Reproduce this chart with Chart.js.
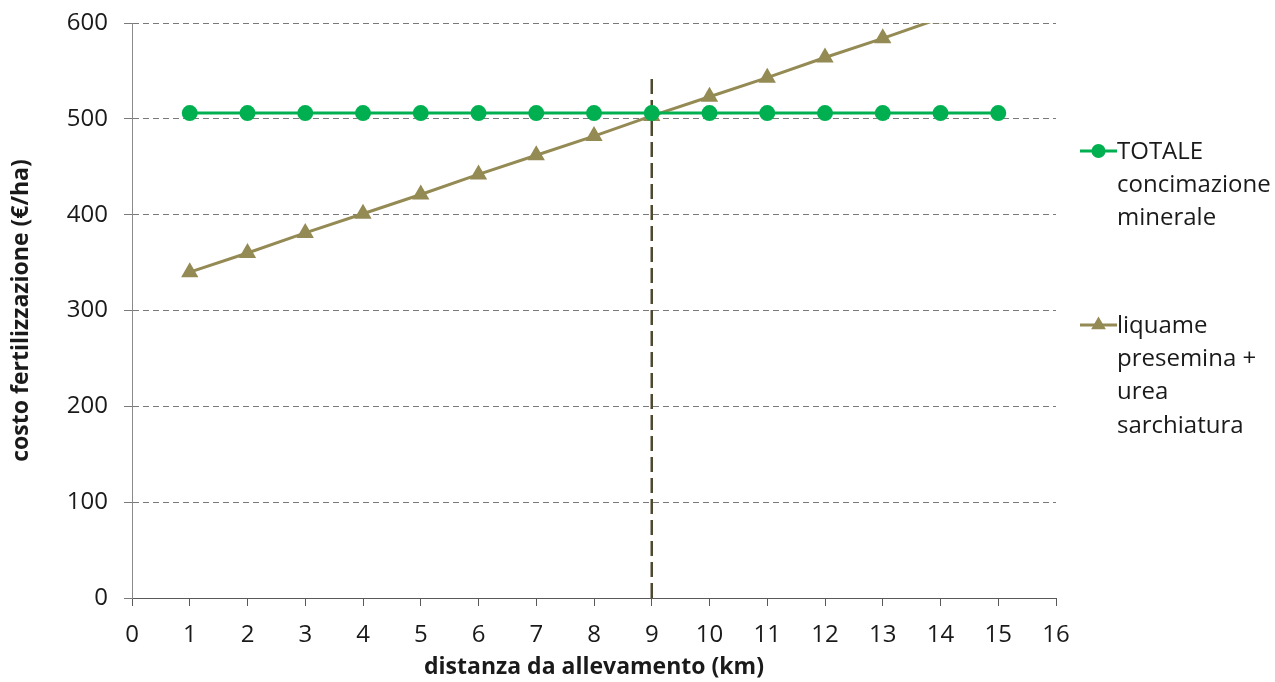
<!DOCTYPE html>
<html>
<head>
<meta charset="utf-8">
<script src="https://cdn.jsdelivr.net/npm/chart.js@4/dist/chart.umd.min.js"></script>
<style>
  html, body { margin: 0; padding: 0; background: #ffffff; }
  #wrap { width: 1275px; height: 682px; }
</style>
</head>
<body>
<div id="wrap"><canvas id="c" width="1275" height="682"></canvas></div>
<script>
// distance from the farm (km)
const distances = [1, 2, 3, 4, 5, 6, 7, 8, 9, 10, 11, 12, 13, 14, 15];
// total cost, mineral fertilisation (€/ha)
const mineralCost = [506, 506, 506, 506, 506, 506, 506, 506, 506, 506, 506, 506, 506, 506, 506];
// slurry before sowing + urea at hoeing (€/ha)
const slurryCost = [340, 360, 381, 401, 421, 442, 462, 482, 503, 523, 543, 564, 584, 605, 625];
// break-even distance marker
const breakEvenX = [9, 9];
const breakEvenY = [0, 546];

const mineralLegend = ['TOTALE', 'concimazione', 'minerale'];
const slurryLegend = ['liquame', 'presemina +', 'urea', 'sarchiatura'];

const xTitle = 'distanza da allevamento (km)';
const yTitle = 'costo fertilizzazione (€/ha)';

const GREEN = '#00B050';
const OLIVE = '#948A54';
const FONT = "'Open Sans', 'DejaVu Sans', sans-serif";

const toPoints = (xs, ys) => xs.map((x, i) => ({ x: x, y: ys[i] }));

// legend drawn at the right, with wrapped multi-line labels
const sideLegend = {
  id: 'sideLegend',
  afterDraw(chart) {
    const ctx = chart.ctx;
    const entries = [
      { ds: chart.data.datasets[0], lines: mineralLegend, y: 151, r: 7 },
      { ds: chart.data.datasets[1], lines: slurryLegend, y: 325, r: 8.5 }
    ];
    ctx.save();
    entries.forEach(e => {
      ctx.strokeStyle = e.ds.borderColor;
      ctx.lineWidth = 3;
      ctx.beginPath();
      ctx.moveTo(1080, e.y);
      ctx.lineTo(1117, e.y);
      ctx.stroke();
      ctx.fillStyle = e.ds.pointBackgroundColor;
      Chart.helpers.drawPoint(ctx, {
        pointStyle: e.ds.pointStyle, radius: e.r, rotation: 0, borderWidth: 0
      }, 1098.5, e.y);
      ctx.fillStyle = '#1a1a1a';
      ctx.font = '24px ' + FONT;
      ctx.textAlign = 'left';
      ctx.textBaseline = 'middle';
      e.lines.forEach((t, i) => ctx.fillText(t, 1117, e.y + 1 + i * 33.3));
    });
    ctx.restore();
  }
};

new Chart(document.getElementById('c'), {
  type: 'line',
  data: {
    datasets: [
      {
        label: mineralLegend.join(' '),
        data: toPoints(distances, mineralCost),
        borderColor: GREEN,
        backgroundColor: GREEN,
        pointBackgroundColor: GREEN,
        pointBorderColor: GREEN,
        borderWidth: 3,
        pointStyle: 'circle',
        pointRadius: 8,
        pointBorderWidth: 0,
        clip: 0
      },
      {
        label: slurryLegend.join(' '),
        data: toPoints(distances, slurryCost),
        borderColor: OLIVE,
        backgroundColor: OLIVE,
        pointBackgroundColor: OLIVE,
        pointBorderColor: OLIVE,
        borderWidth: 3,
        pointStyle: 'triangle',
        pointRadius: 10,
        pointBorderWidth: 0,
        clip: 0
      },
      {
        label: 'pareggio',
        data: toPoints(breakEvenX, breakEvenY),
        borderColor: '#4F4A2F',
        borderWidth: 2.5,
        borderDash: [15, 6],
        pointRadius: 0,
        clip: 0,
        order: 5
      }
    ]
  },
  options: {
    responsive: false,
    animation: false,
    events: [],
    layout: { padding: { top: 23, right: 219, left: 0, bottom: 0 } },
    plugins: {
      legend: { display: false },
      tooltip: { enabled: false }
    },
    scales: {
      x: {
        type: 'linear',
        min: 0,
        max: 16,
        afterFit(s) { s.height = 84; },
        ticks: {
          stepSize: 1,
          color: '#1a1a1a',
          font: { family: FONT, size: 24 },
          padding: 15,
          maxRotation: 0
        },
        grid: {
          drawOnChartArea: false,
          drawTicks: true,
          tickLength: 8,
          color: '#595959'
        },
        border: { display: true, color: '#595959', width: 1 },
        title: {
          display: true,
          text: xTitle,
          color: '#1a1a1a',
          font: { family: FONT, size: 23, weight: 'bold' },
          padding: { top: 0, bottom: 1 }
        }
      },
      y: {
        min: 0,
        max: 600,
        afterFit(s) { s.width = 132; s.paddingTop = 0; s.paddingBottom = 0; },
        ticks: {
          stepSize: 100,
          color: '#1a1a1a',
          font: { family: FONT, size: 24 },
          padding: 16
        },
        grid: {
          color: '#7a7a7a',
          lineWidth: 1,
          drawTicks: true,
          tickLength: 8,
          tickColor: '#7a7a7a',
          tickBorderDash: []
        },
        border: { display: true, color: '#8a8a8a', width: 1, dash: [6, 4] },
        title: {
          display: true,
          text: yTitle,
          color: '#1a1a1a',
          font: { family: FONT, size: 23, weight: 'bold' },
          padding: { top: 8, bottom: 0 }
        }
      }
    }
  },
  plugins: [sideLegend]
});
</script>
</body>
</html>
